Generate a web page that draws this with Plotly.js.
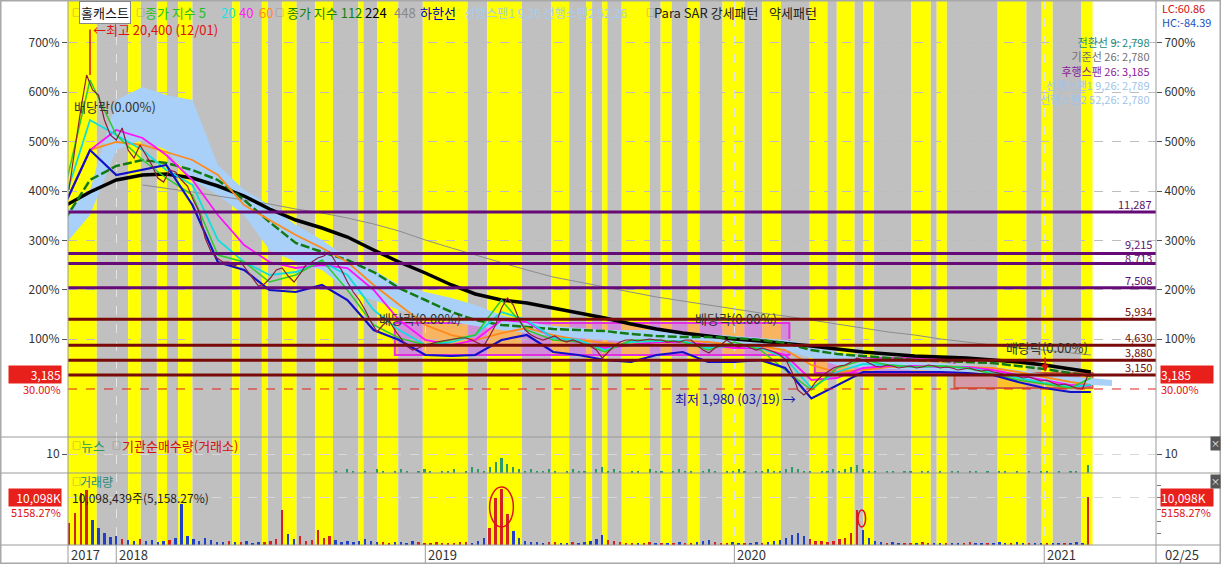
<!DOCTYPE html>
<html><head><meta charset="utf-8">
<script src="https://cdn.plot.ly/plotly-3.0.1.min.js"></script>
<style>html,body{margin:0;padding:0;background:#fff;}#chart{width:1221px;height:564px;}</style>
</head><body><div id="chart"></div>
<script>
// ---------------- DATA ----------------
const weekStart = [2017, 10, 6]; // first weekly bar (2017-11-06)
// weekly closes (KRW)
const closeW = [
12385,14382,16380,18127,17378,17128,15880,15131,14882,15481,
14382,13983,14632,14133,13634,12985,12785,13384,13284,12885,
12585,11886,11287,9989,9290,8990,8790,8790,8590,8790,
8391,7991,7592,7692,7991,8391,8491,8091,7792,8191,
8640,8790,8990,9090,9290,8790,8391,7792,7292,6893,
6393,5794,5295,5644,5894,5395,4995,4596,4397,4496,
4646,4696,4796,4846,4896,4946,4995,4995,4896,4746,
4596,5095,5644,6493,6993,6643,5894,5395,5145,4995,
4896,4995,5095,4896,4796,4896,4796,4646,4596,4397,
3997,4297,4596,4796,4896,4896,4846,4896,4946,4896,
4896,4796,4846,4796,4896,4896,4646,4397,4247,4496,
4646,4896,4696,4546,4646,4496,4397,4496,4397,4297,
4147,3897,3298,2400,2150,2400,2799,3098,3298,3498,
3598,3647,3797,3997,3897,3747,3598,3548,3648,3598,
3498,3548,3598,3498,3548,3648,3598,3498,3548,3498,
3398,3448,3498,3398,3348,3398,3298,3248,3148,3198,
3098,2999,3048,2949,2849,2899,2749,2649,2699,2599,
2499,2450,3185];
// weekly volume (thousand shares)
const volumeK = [
4600,6700,10900,11500,5200,3600,2500,1600,1900,1300,
1100,900,1200,800,1000,700,900,1100,1500,8600,
1800,1200,900,1400,1100,700,600,900,700,600,
800,500,700,600,900,1200,7300,2400,1200,1800,
900,1100,3100,1400,1900,1000,700,900,600,800,
1200,900,700,600,500,700,600,500,800,600,
500,400,600,500,400,500,700,600,500,800,
1500,3500,9800,11800,6500,3000,1500,900,700,600,
500,700,600,500,400,600,500,700,900,1300,
2200,1100,800,600,500,400,500,400,600,500,
400,500,400,600,500,400,700,900,1100,600,
500,400,600,500,400,500,600,500,700,800,
1000,1400,2100,2600,1800,1200,900,800,700,900,
1200,1500,2500,7400,3200,1500,900,600,500,600,
500,400,500,400,600,500,400,500,400,500,
400,500,600,400,500,400,500,600,400,500,
600,400,500,400,500,400,500,400,500,400,
600,500,10098];
// weekly news count
const newsW = [
0,0,0,0,0,0,0,0,0,0, 0,0,0,0,0,0,0,0,0,0,
0,0,0,0,0,0,0,0,0,0, 0,0,0,0,0,0,0,0,0,0,
0,0,0,0,0,1,0,2,1,0, 1,0,2,1,0,1,2,1,0,1,
2,1,0,1,1,2,0,1,3,2, 1,3,6,8,5,3,2,1,2,1,
1,2,1,0,1,2,1,1,0,2, 3,1,2,1,0,1,1,0,2,1,
1,0,1,2,1,1,0,1,2,1, 0,1,1,2,1,0,1,1,2,1,
1,2,3,2,1,1,0,1,1,2, 1,2,3,4,2,1,1,0,1,1,
0,1,1,0,1,1,0,1,0,1, 1,0,1,1,0,1,0,1,1,0,
1,0,1,0,1,1,0,1,0,1, 1,0,4];
// monthly indicator values
const months = ['2017-11-01','2017-12-01',
'2018-01-01','2018-02-01','2018-03-01','2018-04-01','2018-05-01','2018-06-01','2018-07-01','2018-08-01','2018-09-01','2018-10-01','2018-11-01','2018-12-01',
'2019-01-01','2019-02-01','2019-03-01','2019-04-01','2019-05-01','2019-06-01','2019-07-01','2019-08-01','2019-09-01','2019-10-01','2019-11-01','2019-12-01',
'2020-01-01','2020-02-01','2020-03-01','2020-04-01','2020-05-01','2020-06-01','2020-07-01','2020-08-01','2020-09-01','2020-10-01','2020-11-01','2020-12-01',
'2021-01-01','2021-02-01','2021-02-25'];
const ma5 = [12385,17878,15131,13883,12985,12136,9140,8790,7792,8141,8890,7392,5644,4996,4646,4896,5145,6893,5395,4896,4796,4297,4896,4896,4796,4397,4796,4397,3398,2400,3498,3897,3648,3548,3598,3498,3198,2899,2699,2499,2999];
const ma20 = [11886,15880,15131,14382,13384,12635,9889,8790,8141,8291,8790,8141,6393,5395,4646,4796,5145,6293,5894,4996,4896,4397,4796,4846,4846,4496,4646,4496,3997,2499,3298,3697,3648,3548,3598,3498,3298,2999,2749,2549,2649];
const ma40 = [11637,14382,15381,14982,14133,12885,11137,9639,8790,8491,8640,8491,7392,5894,4896,4646,4896,5894,5794,4996,4796,4496,4646,4796,4796,4646,4496,4496,4147,2899,2999,3498,3598,3598,3548,3548,3398,3148,2899,2649,2599];
const ma60 = [11637,14382,14782,14632,14283,13883,13134,11637,10887,10139,9489,8790,7642,6643,5644,5145,4896,5245,5494,5145,4896,4746,4646,4796,4846,4796,4646,4596,4397,3648,3298,3398,3548,3598,3598,3548,3498,3298,3048,2799,2649];
const ma112 = [10887,12885,13584,13883,13733,13384,12885,11886,10788,9739,9290,8890,8291,7492,6893,6293,5894,5644,5544,5445,5395,5345,5195,5095,5045,5045,4996,4896,4746,4397,4197,4097,3997,3897,3847,3797,3747,3598,3448,3248,3098];
const ma224 = [11587,12285,12885,13134,13184,12985,12585,12086,11437,10887,10488,10038,9389,8790,8241,7642,7193,6893,6743,6493,6243,5994,5694,5445,5245,5095,4946,4846,4746,4596,4447,4297,4197,4097,4047,3997,3897,3797,3648,3448,3298];
const ma448 = [null,null,null,12635,12485,12285,12086,11886,11686,11437,11237,10987,10688,10338,9889,9489,9140,8740,8391,8041,7792,7542,7292,7043,6843,6643,6443,6243,6093,5894,5694,5494,5295,5145,4946,4796,4646,4496,4397,4247,4147];
const lowerBand = [11637,14382,13134,13384,13634,11637,8790,8391,7392,7292,7642,6893,5395,4896,4147,4097,4147,4896,5145,4297,4147,3897,3797,4147,4297,3797,3797,3897,3498,1980,2649,3298,3298,3298,3298,3248,3148,2799,2499,2299,2299];
const cloudExtraDate = '2021-03-22';
const cloudTop = [11237,12385,16879,17528,17128,16879,13634,12385,11637,10638,9889,8990,8391,7642,7292,6993,6643,6143,5794,5594,5494,5395,5395,5395,5295,5195,5095,4996,4896,4646,4297,3997,3897,3797,3747,3648,3548,3398,3198,3048,2999,2899];
const cloudBot = [9639,11137,14382,14882,14382,12885,12136,11137,9389,8790,8391,7392,6893,6393,5994,5794,5594,5395,5245,5095,4996,4896,4796,4796,4746,4696,4646,4546,4397,3997,3648,3498,3448,3398,3348,3298,3198,2999,2849,2699,2649,2599];
// price levels
const levels = [11287, 9215, 8713, 7508, 5934, 4630, 3880, 3150];
const levelLabels = ['11,287','9,215','8,713','7,508','5,934','4,630','3,880','3,150'];
// key values
const highDate = '2017-12-01', highPrice = 20400;
const lowDate = '2020-03-19', lowPrice = 1980;
const lastPrice = 3185, prevClose = 2450, lastVolK = 10098;
const pctBase = 2467;
const pctLevels = [700, 600, 500, 400, 300, 200, 100];
// Ichimoku readouts
const ichiLabels = ['전환선 9: 2,798', '기준선 26: 2,780', '후행스팬 26: 3,185', '선행스팬1 9,26: 2,789', '선행스팬2 52,26: 2,780'];
// Para SAR pattern periods (alternating, first = strong/yellow)
const bandEdges = ['2017-11-05','2017-12-09','2018-01-15','2018-01-30','2018-02-18','2018-03-02','2018-03-15','2018-04-01','2018-05-18','2018-05-27','2018-06-22','2018-06-29','2018-07-16','2018-08-02','2018-08-24','2018-09-14','2018-10-14','2018-10-20','2018-11-05','2018-11-30','2018-12-29',
'2019-02-20','2019-03-15','2019-04-25','2019-05-30','2019-06-20','2019-07-10','2019-07-17','2019-07-29','2019-08-04','2019-08-21','2019-09-23','2019-10-06','2019-10-19','2019-11-07','2019-11-21','2019-12-18',
'2020-01-13','2020-02-03','2020-02-25','2020-03-30','2020-04-20','2020-05-01','2020-05-22','2020-06-01','2020-06-14','2020-07-28','2020-08-20','2020-08-27','2020-09-08','2020-11-07','2020-12-11','2020-12-29',
'2021-01-11','2021-02-14','2021-02-27'];
// box patterns
const boxStart = ['2018-11-26','2020-04-05','2020-09-17'];
const boxEnd   = ['2020-03-06','2020-09-17','2021-02-27'];
const boxHigh  = [5744, 3997, 3248];
const boxLow   = [4147, 3248, 2499];
// dividend ex-date notes
const divDates = ['2017-11-10','2018-11-05','2019-11-13','2020-11-15'];
const divPrices = [16530, 5994, 5994, 4497];
const yearStarts = ['2018-01-01','2019-01-01','2020-01-01','2021-01-01'];
const yearLabels = ['2018','2019','2020','2021'];

// ---------------- BUILD ----------------
const weekDates = closeW.map((_, i) => new Date(Date.UTC(weekStart[0], weekStart[1], weekStart[2]) + i * 7 * 864e5).toISOString().slice(0, 10));
const volColors = closeW.map((c, i) => (i === 0 || c >= closeW[i - 1]) ? '#d42020' : '#2040c8');
const FONT = '"Noto Sans CJK KR", "Noto Sans", sans-serif';
const FS = 12;
const X = px => (px - 68) / 1088;
const Y = py => (545 - py) / 545;

const traces = [
  {x: months.concat([cloudExtraDate]), y: cloudBot, mode: 'lines', line: {width: 0, color: '#a8d0f8'}, hoverinfo: 'skip'},
  {x: months.concat([cloudExtraDate]), y: cloudTop, mode: 'lines', line: {width: 0, color: '#a8d0f8'}, fill: 'tonexty', fillcolor: '#a8d0f8', hoverinfo: 'skip'},
  {x: months, y: ma448, mode: 'lines', line: {color: '#8c8c8c', width: 1}},
  {x: months, y: ma224, mode: 'lines', line: {color: '#000000', width: 3.5}},
  {x: months, y: ma112, mode: 'lines', line: {color: '#127a12', width: 2.5, dash: '9px,3px'}},
  {x: months, y: ma60, mode: 'lines', line: {color: '#ff8a1a', width: 1.8}},
  {x: months, y: ma40, mode: 'lines', line: {color: '#ff10ff', width: 1.8}},
  {x: months, y: ma20, mode: 'lines', line: {color: '#10dede', width: 1.8}},
  {x: months, y: ma5, mode: 'lines', line: {color: '#2ccc2c', width: 1.5}},
  {x: months, y: lowerBand, mode: 'lines', line: {color: '#1010c8', width: 2.2}},
  {x: weekDates, y: closeW, mode: 'lines', line: {color: '#8b1c3c', width: 1.2}},
  {x: [highDate, highDate], y: [highPrice, closeW[3]], mode: 'lines', line: {color: '#e01010', width: 1.5}},
  {x: weekDates, y: newsW, type: 'bar', yaxis: 'y2', marker: {color: '#2a9a6a'}, width: 2.5 * 864e5},
  {x: weekDates, y: volumeK, type: 'bar', yaxis: 'y3', marker: {color: volColors}, width: 2.8 * 864e5},
  {x: [weekDates[0]], y: [null], yaxis: 'y4', mode: 'markers', hoverinfo: 'skip'},
  {x: [weekDates[0]], y: [null], yaxis: 'y5', mode: 'markers', hoverinfo: 'skip'},
  {x: [weekDates[0]], y: [null], yaxis: 'y6', mode: 'markers', hoverinfo: 'skip'}
];

const shapes = [];
for (let k = 0; k < bandEdges.length - 1; k++) {
  shapes.push({type: 'rect', xref: 'x', yref: 'paper', x0: bandEdges[k], x1: bandEdges[k + 1], y0: 0, y1: 1,
    fillcolor: k % 2 === 0 ? '#ffff00' : '#c0c0c0', line: {width: 0}, layer: 'below'});
}
const boxLine = ['#e030e0', '#e030e0', '#d06040'];
const boxFill = ['rgba(235,60,255,0.38)', 'rgba(235,60,255,0.38)', 'rgba(255,80,120,0.35)'];
boxStart.forEach((s, k) => shapes.push({type: 'rect', xref: 'x', yref: 'y', x0: s, x1: boxEnd[k], y0: boxLow[k], y1: boxHigh[k],
  fillcolor: boxFill[k], line: {color: boxLine[k], width: 2}, layer: 'below'}));
levels.forEach((v, k) => shapes.push({type: 'line', xref: 'paper', yref: 'y', x0: 0, x1: 1, y0: v, y1: v,
  line: {color: k < 4 ? '#660a78' : '#780a0a', width: 3}, layer: 'above'}));
shapes.push({type: 'line', xref: 'paper', yref: 'y', x0: 0, x1: 1, y0: prevClose, y1: prevClose, line: {color: '#e02020', width: 1, dash: 'dash'}});
// panel frames
const sepCol = '#9a9a9a';
[Y(437), Y(473), 0].forEach(v => shapes.push({type: 'line', xref: 'paper', yref: 'paper', x0: X(0), x1: X(1221), y0: v, y1: v, line: {color: sepCol, width: 1}}));
[0, 1].forEach(v => shapes.push({type: 'line', xref: 'paper', yref: 'paper', x0: v, x1: v, y0: Y(564), y1: 1, line: {color: sepCol, width: 1}}));
yearStarts.forEach(d => shapes.push({type: 'line', xref: 'x', yref: 'paper', x0: d, x1: d, y0: Y(564), y1: 0, line: {color: sepCol, width: 1}}));
shapes.push({type: 'rect', xref: 'paper', yref: 'paper', x0: X(0.5), x1: X(1220.5), y0: Y(563.5), y1: Y(0.5), line: {color: '#a8a8a8', width: 2}});
// volume highlight circles
shapes.push({type: 'circle', xref: 'x', yref: 'y3', x0: '2019-03-18', x1: '2019-04-15', y0: 3800, y1: 12200, line: {color: '#e01010', width: 1.5}});
shapes.push({type: 'circle', xref: 'x', yref: 'y3', x0: '2020-05-26', x1: '2020-06-04', y0: 3790, y1: 7360, line: {color: '#e01010', width: 1.5}});

const ann = [];
function txt(px, py, text, color, opts) {
  ann.push(Object.assign({xref: 'paper', yref: 'paper', x: X(px), y: Y(py), text: text, showarrow: false,
    xanchor: 'left', yanchor: 'middle', font: {family: FONT, size: FS, color: color}}, opts || {}));
}
const F13 = c => ({font: {family: FONT, size: 13, color: c}});
const SQ = {font: {family: FONT, size: 9, color: '#777'}};
// legend row
txt(70, 12, '□', '#777', SQ);
txt(79, 12, '홀캐스트', '#111', Object.assign({bgcolor: '#ffffff', bordercolor: '#888', borderwidth: 1, borderpad: 1}, F13('#111')));
txt(134, 12, '□', '#777', SQ);
txt(143, 12, '종가 지수 5', '#22c022', F13('#22c022'));
txt(219, 12, '20', '#20e0e0', F13('#20e0e0'));
txt(237, 12, '40', '#ff20ff', F13('#ff20ff'));
txt(257, 12, '60', '#ff8c20', F13('#ff8c20'));
txt(273, 12, '□', '#777', SQ);
txt(285, 12, '종가 지수 112', '#108010', F13('#108010'));
txt(363, 12, '224', '#000', F13('#000'));
txt(392, 12, '448', '#888', F13('#888'));
txt(418, 12, '하한선', '#0000c0', F13('#0000c0'));
txt(462, 12, '선행스팬1 9,26 선행스팬2 52,26', '#a8cdf0');
txt(644, 12, '□', '#777', SQ);
txt(652, 12, 'Para SAR 강세패턴', '#222', F13('#222'));
txt(767, 12, '약세패턴', '#222', F13('#222'));
// top right LC / HC (one block)
txt(1160, 15, '<span style="color:#d01010">LC:60.86</span><br><span style="color:#2050c0">HC:-84.39</span>', '#333',
  {align: 'left', font: {family: FONT, size: 11, color: '#333'}});
// Ichimoku readouts (one right-aligned block)
const ichiColors = ['#1a8a7a', '#707070', '#8a1a9a', '#a0c4e8', '#a0c4e8'];
txt(1152, 70, ichiLabels.map((t, k) => '<span style="color:' + ichiColors[k] + '">' + t + '</span>').join('<br>'), '#333',
  {xanchor: 'right', align: 'right', font: {family: FONT, size: 11, color: '#333'}});
// level labels (9,215 and 8,713 sit right on top of each other -> one block)
levels.forEach((v, k) => {
  if (k === 2) return;
  const isPair = k === 1;
  ann.push({xref: 'paper', yref: 'y', x: X(1153), y: v, yshift: isPair ? 3 : 8,
    text: isPair ? levelLabels[1] + '<br>' + levelLabels[2] : levelLabels[k], showarrow: false, align: 'right', borderpad: 0,
    xanchor: 'right', yanchor: 'middle', font: {family: FONT, size: 11, color: k < 4 ? '#5a1070' : '#6a1010'}});
});
// high / low
ann.push({xref: 'x', yref: 'y', x: highDate, y: highPrice, text: '←최고 20,400 (12/01)', showarrow: false, xanchor: 'left', yanchor: 'middle', xshift: 1, font: {family: FONT, size: 13, color: '#e01010'}});
ann.push({xref: 'x', yref: 'y', x: lowDate, y: lowPrice, text: '최저 1,980 (03/19) →', showarrow: false, xanchor: 'right', yanchor: 'middle', xshift: -2, font: {family: FONT, size: 13, color: '#1818a8'}});
divDates.forEach((d, k) => ann.push({xref: 'x', yref: 'y', x: d, y: divPrices[k], text: '배당락(0.00%)', showarrow: false, xanchor: 'left', yanchor: 'middle', font: {family: FONT, size: 13, color: '#333'}}));
ann.push({xref: 'x', yref: 'y', x: '2021-01-02', y: 3298, text: '', showarrow: true, arrowhead: 2, arrowsize: 1, arrowwidth: 1.5, arrowcolor: '#e01010', ax: 0, ay: -16});
// left / right value boxes
[[-0.0055, 'right'], [X(1160), 'left']].forEach(([xp, anc]) => {
  ann.push({xref: 'paper', yref: 'y', x: xp, y: lastPrice, text: '3,185', showarrow: false, xanchor: anc, yanchor: 'middle', bgcolor: '#e8201c', width: 52, align: anc, borderpad: 0, font: {family: FONT, size: 12, color: '#fff'}});
  ann.push({xref: 'paper', yref: 'y', x: xp, y: prevClose, text: '30.00%', showarrow: false, xanchor: anc, yanchor: 'middle', borderpad: 0, font: {family: FONT, size: 11, color: '#e01010'}});
  ann.push({xref: 'paper', yref: 'y3', x: xp, y: lastVolK, text: '10,098K', showarrow: false, xanchor: anc, yanchor: 'middle', bgcolor: '#e8201c', width: 52, align: anc, borderpad: 0, font: {family: FONT, size: 12, color: '#fff'}});
  ann.push({xref: 'paper', yref: 'y3', x: xp, y: lastVolK, yshift: -15, text: '5158.27%', showarrow: false, xanchor: anc, yanchor: 'middle', borderpad: 0, font: {family: FONT, size: 11, color: '#e01010'}});
});
// panel titles
const F12p = c => ({borderpad: 0, font: {family: FONT, size: 12, color: c}});
txt(70, 445, '□', '#777', SQ);
txt(79, 445, '뉴스', '#2a9a5a', F13('#2a9a5a'));
txt(110, 445, '□', '#777', SQ);
txt(120, 445, '기관순매수량(거래소)', '#d01010', F13('#d01010'));
txt(70, 481, '□', '#777', SQ);
txt(79, 481, '거래량', '#2a8a7a', F12p('#2a8a7a'));
txt(71, 498, '10,098,439주(5,158.27%)', '#222', F12p('#222'));
// close icons
[443, 481].forEach(py => txt(1215, py, '×', '#fff', {xanchor: 'center', bgcolor: '#555', borderpad: 0, font: {family: FONT, size: 9, color: '#fff'}}));
// x labels
ann.push({xref: 'paper', yref: 'paper', x: 0, y: Y(555), text: '2017', showarrow: false, xanchor: 'left', yanchor: 'middle', xshift: 1, font: {family: FONT, size: 13, color: '#333'}});
yearStarts.forEach((d, k) => ann.push({xref: 'x', yref: 'paper', x: d, y: Y(555), text: yearLabels[k], showarrow: false, xanchor: 'left', yanchor: 'middle', xshift: 1, font: {family: FONT, size: 13, color: '#333'}}));
txt(1163, 555, '02/25', '#333', F13('#333'));

const pctVals = pctLevels.map(p => pctBase * (1 + p / 100));
const pctText = pctLevels.map(p => p + '%');
const priceRange = [53, 21872];
const tickF = {family: FONT, size: 12, color: '#333'};
const baseY = {range: priceRange, tickvals: pctVals, ticktext: pctText, ticks: 'outside', ticklen: 5, tickcolor: '#555', tickfont: tickF, zeroline: false, showline: false, fixedrange: true};

const layout = {
  width: 1221, height: 564, margin: {l: 68, r: 65, t: 0, b: 19},
  paper_bgcolor: '#ffffff', plot_bgcolor: '#ffffff', showlegend: false, bargap: 0,
  font: {family: FONT, size: 12, color: '#333'},
  xaxis: {type: 'date', range: ['2017-11-05', '2021-05-13'], anchor: 'y3', showticklabels: false, ticks: '',
    tickvals: yearStarts, showgrid: true, gridcolor: '#e4e4e4', griddash: 'dash', zeroline: false, showline: false},
  yaxis: Object.assign({}, baseY, {domain: [Y(437), 1], side: 'left', showgrid: true, gridcolor: '#bdbdbd', griddash: 'dash'}),
  yaxis4: Object.assign({}, baseY, {overlaying: 'y', side: 'right', anchor: 'x', showgrid: false}),
  yaxis2: {domain: [Y(473), Y(437)], range: [0, 19], tickvals: [10], ticktext: ['10'], ticks: 'outside', ticklen: 5, tickcolor: '#555', tickfont: tickF,
    showgrid: true, gridcolor: '#d8d8d8', griddash: 'dash', zeroline: false, showline: false},
  yaxis5: {overlaying: 'y2', side: 'right', anchor: 'x', range: [0, 19], tickvals: [10], ticktext: ['10'], ticks: 'outside', ticklen: 5, tickcolor: '#555', tickfont: tickF, showgrid: false, zeroline: false},
  yaxis3: {domain: [0, Y(473)], range: [0, 15150], tickvals: [lastVolK], ticktext: [''], ticks: '', showgrid: true, gridcolor: '#d8d8d8', griddash: 'dash', zeroline: false, showline: false},
  yaxis6: {overlaying: 'y3', side: 'right', anchor: 'x', range: [0, 15150], tickvals: [2500, 5000, 7500, 10000, 12500], ticktext: ['', '', '', '', ''], ticks: 'outside', ticklen: 4, tickcolor: '#777', showgrid: false, zeroline: false},
  shapes: shapes, annotations: ann
};
Plotly.newPlot('chart', traces, layout, {staticPlot: true, displayModeBar: false});
</script></body></html>
